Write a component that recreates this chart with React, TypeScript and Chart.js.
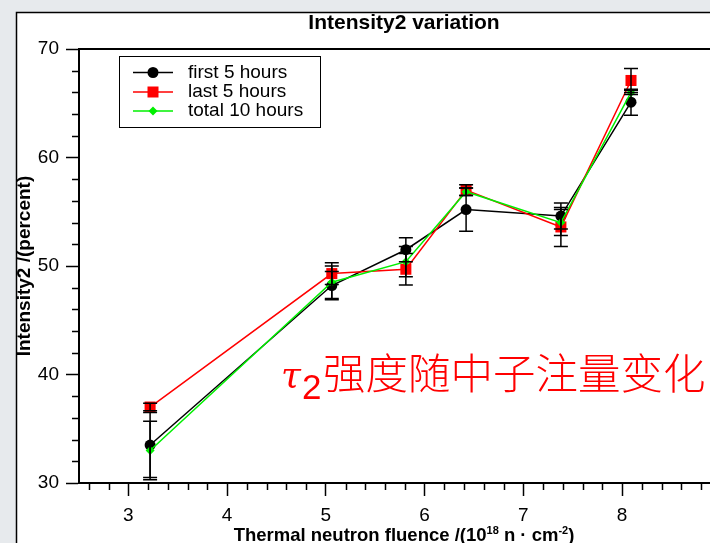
import React, { useEffect, useRef } from 'react';
import { Chart, registerables } from 'chart.js';

Chart.register(...registerables);

// ---- data ----
const fluence = [3.22, 5.06, 5.81, 6.42, 7.38, 8.09];
const first5 = [33.5, 48.2, 51.5, 55.2, 54.6, 65.1];
const first5Err = [3.0, 1.3, 1.1, 2.0, 1.2, 1.2];
const last5 = [37.0, 49.3, 49.7, 57.0, 53.6, 67.1];
const last5Err = [0.35, 1.0, 1.45, 0.5, 1.8, 1.1];
const total10 = [33.0, 48.5, 50.4, 56.85, 54.0, 66.0];
const total10Err = [2.7, 1.5, 1.4, 0.35, 1.2, 0.2];
const seriesLabels = ['first 5 hours', 'last 5 hours', 'total 10 hours'];
const xTicks = [3, 4, 5, 6, 7, 8];
const yTicks = [30, 40, 50, 60, 70];
const chartTitle = 'Intensity2 variation';
const yTitle = 'Intensity2 /(percent)';
const xTitleParts: [string, boolean][] = [
  ['Thermal neutron fluence /(10', false],
  ['18', true],
  [' n \u00b7 cm', false],
  ['-2', true],
  [')', false],
];
const annotationSymbol = '\u03c4';
const annotationSub = '2';
const annotationText = '强度随中子注量变化';

const W = 710;
const H = 543;
const FONT = "'Liberation Sans', Arial, Helvetica, sans-serif";

export default function App() {
  const ref = useRef<HTMLCanvasElement>(null);

  useEffect(() => {
    const canvas = ref.current!;
    const pts = (ys: number[]) => fluence.map((x, i) => ({ x, y: ys[i] }));

    const bgPlugin = {
      id: 'bgPanel',
      beforeDraw(chart: any) {
        const ctx = chart.ctx;
        ctx.save();
        ctx.fillStyle = '#e7eaed';
        ctx.fillRect(0, 0, W, H);
        ctx.fillStyle = '#ffffff';
        ctx.fillRect(16, 12, W - 16, H - 12);
        ctx.strokeStyle = '#000';
        ctx.lineWidth = 1.5;
        ctx.beginPath();
        ctx.moveTo(16.5, H);
        ctx.lineTo(16.5, 12.5);
        ctx.lineTo(W, 12.5);
        ctx.stroke();
        ctx.restore();
      },
    };

    const errorPlugin = {
      id: 'errorBars',
      afterDatasetsDraw(chart: any) {
        const ctx = chart.ctx;
        const ys = chart.scales.y;
        ctx.save();
        ctx.strokeStyle = '#000';
        ctx.lineWidth = 1.5;
        chart.data.datasets.forEach((ds: any, di: number) => {
          const meta = chart.getDatasetMeta(di);
          meta.data.forEach((el: any, j: number) => {
            const v = ds.data[j].y;
            const e = ds.errors[j];
            const x = el.x;
            const t = ys.getPixelForValue(v + e);
            const b = ys.getPixelForValue(v - e);
            ctx.beginPath();
            ctx.moveTo(x, t);
            ctx.lineTo(x, b);
            ctx.moveTo(x - 7, t);
            ctx.lineTo(x + 7, t);
            ctx.moveTo(x - 7, b);
            ctx.lineTo(x + 7, b);
            ctx.stroke();
          });
        });
        ctx.restore();
      },
    };

    const drawMarker = (ctx: any, style: string, x: number, y: number, color: string) => {
      ctx.fillStyle = color;
      ctx.beginPath();
      if (style === 'circle') {
        ctx.arc(x, y, 5.5, 0, Math.PI * 2);
      } else if (style === 'rect') {
        ctx.rect(x - 5.5, y - 5.5, 11, 11);
      } else {
        ctx.moveTo(x - 4.5, y);
        ctx.lineTo(x, y - 4.5);
        ctx.lineTo(x + 4.5, y);
        ctx.lineTo(x, y + 4.5);
        ctx.closePath();
      }
      ctx.fill();
    };

    const decorPlugin = {
      id: 'decor',
      afterDraw(chart: any) {
        const ctx = chart.ctx;
        const { left, right, top, bottom } = chart.chartArea;
        const xs = chart.scales.x;
        const ys = chart.scales.y;
        ctx.save();

        // top frame line
        ctx.strokeStyle = '#000';
        ctx.lineWidth = 2;
        ctx.beginPath();
        ctx.moveTo(left - 1, top);
        ctx.lineTo(right, top);
        ctx.stroke();

        // minor ticks
        ctx.lineWidth = 1.5;
        ctx.beginPath();
        for (let k = 13; k <= 44; k++) {
          if (k % 5 === 0) continue;
          const px = Math.round(xs.getPixelForValue(k / 5)) + 0.5;
          if (px < left || px > right) continue;
          ctx.moveTo(px, bottom);
          ctx.lineTo(px, bottom + 7);
        }
        for (let v = 32; v < 70; v += 2) {
          if (v % 10 === 0) continue;
          const py = Math.round(ys.getPixelForValue(v)) + 0.5;
          ctx.moveTo(left, py);
          ctx.lineTo(left - 7, py);
        }
        ctx.stroke();

        // chart title
        ctx.fillStyle = '#000';
        ctx.textAlign = 'center';
        ctx.textBaseline = 'alphabetic';
        ctx.font = `bold 21px ${FONT}`;
        ctx.fillText(chartTitle, 404, 29);

        // x axis title with superscripts
        const big = `bold 18.5px ${FONT}`;
        const small = `bold 11px ${FONT}`;
        let total = 0;
        xTitleParts.forEach(([t, sup]) => {
          ctx.font = sup ? small : big;
          total += ctx.measureText(t).width;
        });
        let cx = 404 - total / 2;
        ctx.textAlign = 'left';
        xTitleParts.forEach(([t, sup]) => {
          ctx.font = sup ? small : big;
          ctx.fillText(t, cx, sup ? 534 : 541);
          cx += ctx.measureText(t).width;
        });

        // legend
        const lx = 119.5, ly = 56.5, lw = 201, lh = 71;
        ctx.fillStyle = '#fff';
        ctx.fillRect(lx, ly, lw, lh);
        ctx.strokeStyle = '#000';
        ctx.lineWidth = 1;
        ctx.strokeRect(lx, ly, lw, lh);
        const rows = [72.5, 92, 111];
        chart.data.datasets.forEach((ds: any, i: number) => {
          const ry = rows[i];
          ctx.strokeStyle = ds.borderColor;
          ctx.lineWidth = 1.5;
          ctx.beginPath();
          ctx.moveTo(133, ry);
          ctx.lineTo(173, ry);
          ctx.stroke();
          drawMarker(ctx, ds.pointStyle, 153, ry, ds.backgroundColor);
          ctx.fillStyle = '#000';
          ctx.font = `19px ${FONT}`;
          ctx.textAlign = 'left';
          ctx.textBaseline = 'middle';
          ctx.fillText(ds.label, 188, ry);
        });

        // annotation
        ctx.fillStyle = '#ff0000';
        ctx.textBaseline = 'alphabetic';
        ctx.textAlign = 'left';
        ctx.font = "italic 36px 'DejaVu Serif'";
        ctx.fillText(annotationSymbol, 281, 387);
        ctx.font = `35px ${FONT}`;
        ctx.fillText(annotationSub, 302, 399);
        ctx.font = "300 42.5px 'Noto Sans CJK SC'";
        ctx.fillText(annotationText, 323, 389);

        ctx.restore();
      },
    };

    const common = { borderWidth: 1.5, pointBorderWidth: 0, pointHoverRadius: 0, tension: 0 };

    const chart = new Chart(canvas, {
      type: 'line',
      data: {
        datasets: [
          {
            ...common,
            label: seriesLabels[0],
            data: pts(first5),
            errors: first5Err,
            borderColor: '#000000',
            backgroundColor: '#000000',
            pointStyle: 'circle',
            pointRadius: 5.5,
            order: 2,
          } as any,
          {
            ...common,
            label: seriesLabels[1],
            data: pts(last5),
            errors: last5Err,
            borderColor: '#ff0000',
            backgroundColor: '#ff0000',
            pointStyle: 'rect',
            pointRadius: 7.8,
            order: 1,
          } as any,
          {
            ...common,
            label: seriesLabels[2],
            data: pts(total10),
            errors: total10Err,
            borderColor: '#00f000',
            backgroundColor: '#00f000',
            pointStyle: 'rectRot',
            pointRadius: 4.5,
            order: 0,
          } as any,
        ],
      },
      options: {
        animation: false,
        responsive: false,
        devicePixelRatio: 1,
        layout: { autoPadding: false, padding: { top: 49, left: 0, right: 0, bottom: 0 } },
        plugins: {
          legend: { display: false },
          title: { display: false },
          tooltip: { enabled: false },
        },
        scales: {
          x: {
            type: 'linear',
            min: 2.5,
            max: 8.89,
            afterBuildTicks: (s: any) => {
              s.ticks = xTicks.map((v) => ({ value: v }));
            },
            afterFit: (s: any) => {
              s.height = 60;
              s.paddingLeft = 0;
              s.paddingRight = 0;
            },
            grid: {
              drawOnChartArea: false,
              drawTicks: true,
              tickLength: 13,
              tickColor: '#000',
              tickWidth: 1.5,
            },
            border: { display: true, color: '#000', width: 2 },
            ticks: {
              font: { family: FONT, size: 19 },
              color: '#000',
              padding: 8,
              maxRotation: 0,
              autoSkip: false,
            },
          },
          y: {
            type: 'linear',
            min: 30,
            max: 70,
            afterBuildTicks: (s: any) => {
              s.ticks = yTicks.map((v) => ({ value: v }));
            },
            afterFit: (s: any) => {
              s.width = 79;
              s.paddingTop = 0;
              s.paddingBottom = 0;
            },
            title: {
              display: true,
              text: yTitle,
              font: { family: FONT, size: 19, weight: 'bold' },
              color: '#000',
              padding: { top: 13, bottom: 0 },
            },
            grid: {
              drawOnChartArea: false,
              drawTicks: true,
              tickLength: 13,
              tickColor: '#000',
              tickWidth: 1.5,
            },
            border: { display: true, color: '#000', width: 2 },
            ticks: {
              font: { family: FONT, size: 19 },
              color: '#000',
              padding: 7,
              autoSkip: false,
            },
          },
        },
      } as any,
      plugins: [bgPlugin, errorPlugin, decorPlugin],
    });

    return () => chart.destroy();
  }, []);

  return (
    <div style={{ position: 'absolute', left: 0, top: 0, width: W, height: H, overflow: 'hidden' }}>
      <canvas ref={ref} width={W} height={H} style={{ display: 'block' }} />
    </div>
  );
}
